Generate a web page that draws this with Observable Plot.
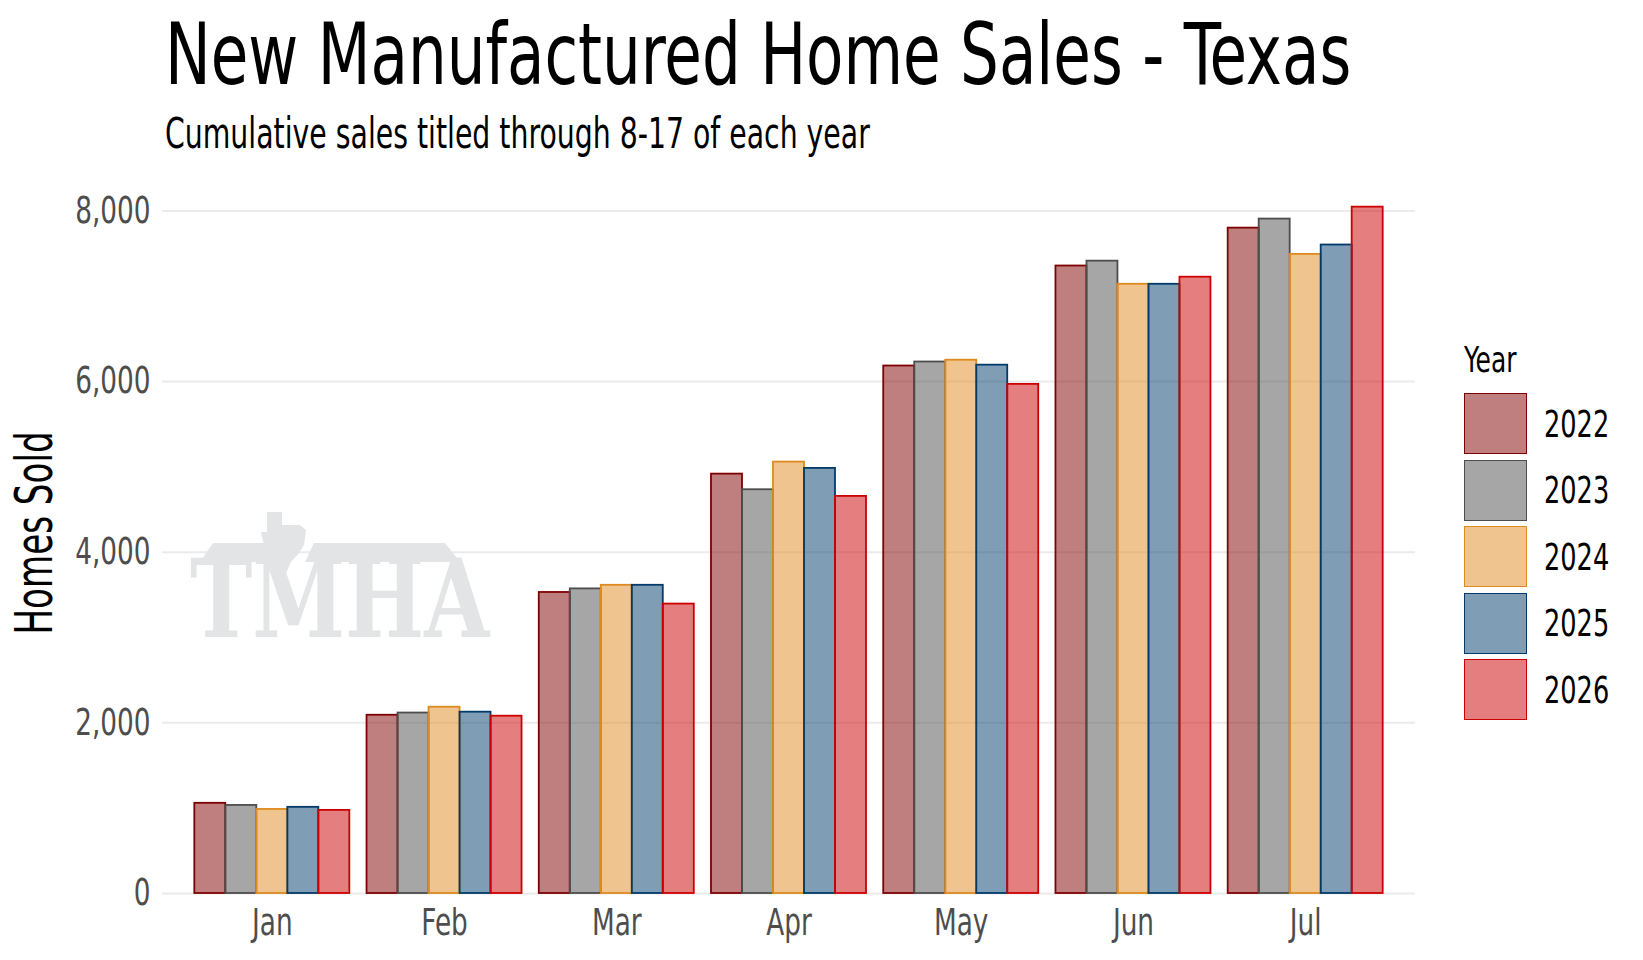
<!DOCTYPE html>
<html>
<head>
<meta charset="utf-8">
<script src="https://cdn.jsdelivr.net/npm/d3@7"></script>
<script src="https://cdn.jsdelivr.net/npm/@observablehq/plot@0.6"></script>
<style>
  body { margin: 0; background: #fff; }
  #page {
    position: relative; width: 1643px; height: 960px; overflow: hidden;
    font-family: "Liberation Sans Narrow", "DejaVu Sans Condensed", sans-serif;
  }
  .abs { position: absolute; white-space: nowrap; line-height: 1; transform-origin: left top; }
  #title { left: 165px; top: 11px; font-size: 86px; color: #000; transform: scaleX(0.79); }
  #subtitle { left: 165px; top: 113px; font-size: 42px; color: #000; transform: scaleX(0.75); }
  #chart { position: absolute; left: 0; top: 160px; }
  #logo { position: absolute; left: 170px; top: 495px; overflow: visible; }
  .key { position: absolute; left: 1464px; width: 61px; height: 59px; border: 1.7px solid; }
  .keylab { position: absolute; left: 1544px; font-size: 37px; line-height: 1; transform: scaleX(0.77); transform-origin: left center; }
</style>
</head>
<body>
<div id="page">
  <div id="title" class="abs">New Manufactured Home Sales - Texas</div>
  <div id="subtitle" class="abs">Cumulative sales titled through 8-17 of each year</div>
  <div id="chart"></div>
  <svg id="logo" width="360" height="190" viewBox="170 495 360 190">
    <g fill="#e3e4e6">
      <polygon points="200,562 213,543 275,543 286,562"></polygon>
      <polygon points="305,562 314,543 445,543 460,562"></polygon>
      <polygon points="261,532 267,532 267,512 282,512 282,525 300,525 306,530 304,545 299,553 291,562 283,580 276,562 264,545"></polygon>
      <text transform="translate(190,637) scale(0.776,1)" font-family="DejaVu Serif, Liberation Serif, serif"
            font-weight="bold" font-size="108">TMHA</text>
    </g>
  </svg>
  <div id="legend"></div>
</div>
<script>
const months = ["Jan", "Feb", "Mar", "Apr", "May", "Jun", "Jul"];
const years = ["2022", "2023", "2024", "2025", "2026"];

// cumulative homes sold, Jan..Jul
const sales2022 = [1057, 2089, 3528, 4915, 6182, 7354, 7798];
const sales2023 = [1032, 2115, 3570, 4732, 6229, 7411, 7904];
const sales2024 = [985, 2183, 3612, 5056, 6250, 7140, 7490];
const sales2025 = [1010, 2125, 3612, 4982, 6192, 7140, 7600];
const sales2026 = [974, 2078, 3392, 4654, 5967, 7223, 8044];

const yTicks = [0, 2000, 4000, 6000, 8000];
const yearColors = ["#7f0000", "#4d4d4d", "#df8a1e", "#003b6b", "#cc0000"];

const series = [sales2022, sales2023, sales2024, sales2025, sales2026];
const rows = months.flatMap((m, i) =>
  years.map((y, j) => ({month: m, mi: i + 1, year: y, yi: j, value: series[j][i]}))
);

// dodge like ggplot: group width 0.9, 5 bars
const bw = 0.9 / years.length;

const chart = Plot.plot({
  width: 1440,
  height: 800,
  marginLeft: 162,
  marginRight: 25,
  marginTop: 12,
  marginBottom: 67,
  style: {
    fontFamily: '"Liberation Sans Narrow", "DejaVu Sans Condensed", sans-serif',
    background: "transparent"
  },
  x: {type: "linear", domain: [0.3624, 7.6376]},
  y: {domain: [0, 8450]},
  color: {domain: years, range: yearColors},
  marks: [
    Plot.gridY(yTicks, {stroke: "#ebebeb", strokeOpacity: 1, strokeWidth: 2}),
    Plot.rectY(rows, {
      x1: (d) => d.mi - 0.45 + d.yi * bw,
      x2: (d) => d.mi - 0.45 + (d.yi + 1) * bw,
      y: "value",
      fill: "year",
      fillOpacity: 0.5,
      stroke: "year",
      strokeWidth: 1.8
    }),
    Plot.axisY(yTicks, {
      tickSize: 0, tickPadding: 12, fontSize: 37, color: "#4d4d4d",
      tickFormat: d3.format(","), label: null
    }),
    Plot.axisX(d3.range(1, months.length + 1), {
      tickSize: 0, tickPadding: 15, fontSize: 37, color: "#4d4d4d",
      tickFormat: (i) => months[i - 1], label: null
    }),
    Plot.text(["Homes Sold"], {
      frameAnchor: "left", textAnchor: "middle", rotate: -90, dx: -127,
      fontSize: 52, fill: "#000"
    })
  ]
});

// squeeze the wide fallback font to a condensed look
const squeeze = (sel, k) =>
  d3.select(chart).selectAll(sel).each(function () {
    const t = this.getAttribute("transform");
    if (t) this.setAttribute("transform", t + ` scale(${k},1)`);
  });
squeeze('g[aria-label="y-axis tick label"] text', 0.79);
squeeze('g[aria-label="x-axis tick label"] text', 0.79);
squeeze('g[aria-label="text"] text', 0.73);

document.getElementById("chart").append(chart);

// legend
const legend = document.getElementById("legend");
const yearTitle = document.createElement("div");
yearTitle.className = "abs";
yearTitle.style.cssText = "left:1464px; top:342px; font-size:36px; transform:scaleX(0.77);";
yearTitle.textContent = "Year";
legend.append(yearTitle);
years.forEach((y, j) => {
  const top = 393 + j * 66.5;
  const key = document.createElement("div");
  key.className = "key";
  key.style.top = top + "px";
  key.style.borderColor = yearColors[j];
  key.style.background = d3.color(yearColors[j]).copy({opacity: 0.5}).formatRgb();
  legend.append(key);
  const lab = document.createElement("div");
  lab.className = "keylab";
  lab.style.top = (top + 31 - 18.5) + "px";
  lab.textContent = y;
  legend.append(lab);
});
</script>
</body>
</html>
